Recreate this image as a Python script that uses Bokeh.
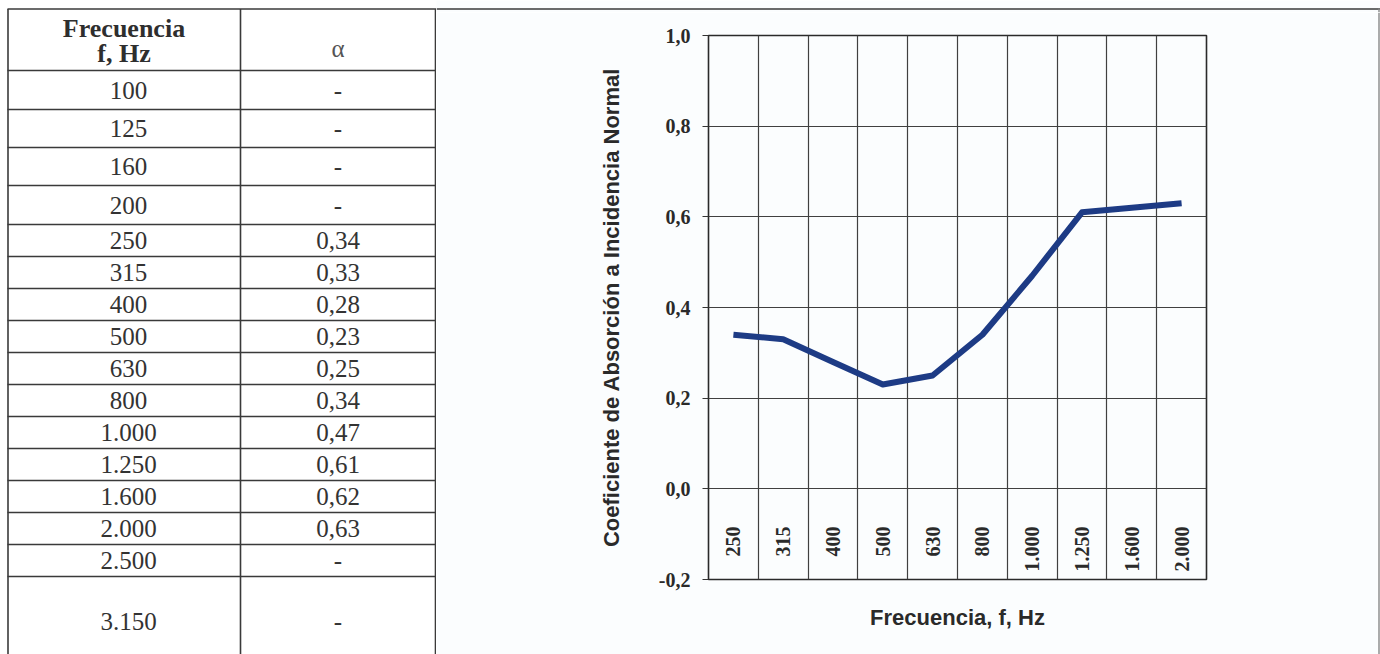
from math import pi
from bokeh.plotting import figure
from bokeh.models import Range1d, FixedTicker, CustomJSTickFormatter
from bokeh.layouts import row, column
from bokeh.core.properties import value
from bokeh.embed import file_html
from bokeh.resources import INLINE

# ---------------- data ----------------
freq_labels = ["100", "125", "160", "200", "250", "315", "400", "500", "630",
               "800", "1.000", "1.250", "1.600", "2.000", "2.500", "3.150"]
alpha_values = [None, None, None, None, 0.34, 0.33, 0.28, 0.23, 0.25,
                0.34, 0.47, 0.61, 0.62, 0.63, None, None]
header_freq = ["Frecuencia", "f, Hz"]
header_alpha = "α"
y_ticks = [-0.2, 0.0, 0.2, 0.4, 0.6, 0.8, 1.0]
x_title = "Frecuencia, f, Hz"
y_title = "Coeficiente de Absorción a Incidencia Normal"

chart_labels = [f for f, a in zip(freq_labels, alpha_values) if a is not None]
chart_values = [a for a in alpha_values if a is not None]
alpha_text = ["-" if a is None else f"{a:.2f}".replace(".", ",") for a in alpha_values]

H = 654
line_col = "#3a3a3a"
chart_bg = "#fbfdfe"
serif = value("Liberation Serif")


def blank_fig(w, h, bg):
    f = figure(width=w, height=h, x_range=Range1d(0, w), y_range=Range1d(h, 0),
               title=None, output_backend="svg", toolbar_location=None,
               min_border=0, x_axis_type=None, y_axis_type=None)
    f.frame_align = False
    f.grid.visible = False
    f.outline_line_color = None
    f.background_fill_color = bg
    f.border_fill_color = bg
    return f


# ---------------- table (left) ----------------
TW = 436
table_top = 8.5
header_bottom = 70
row_heights = [39, 38, 38, 39] + [32] * 11 + [90]
bounds = [header_bottom]
for h in row_heights:
    bounds.append(bounds[-1] + h)
row_centers = [(bounds[i] + bounds[i + 1]) / 2 for i in range(len(row_heights))]
hlines = [table_top] + bounds[:-1]

t = blank_fig(TW, H, "white")
t.segment(x0=[7] * len(hlines), x1=[TW] * len(hlines), y0=hlines, y1=hlines,
          line_color=line_col, line_width=1.6)
t.segment(x0=[7.5, 240, 435], x1=[7.5, 240, 435], y0=[table_top] * 3, y1=[H] * 3,
          line_color=line_col, line_width=1.6)

t.text(x=[123.5, 123.5], y=[27.5, 53], text=header_freq, text_align="center",
       text_baseline="middle", text_font=serif, text_font_style="bold",
       text_font_size="26px", text_color="#2e2e2e")
t.text(x=[337.5], y=[48], text=[header_alpha], text_align="center",
       text_baseline="middle", text_font=serif, text_font_size="25px",
       text_color="#555555")
t.text(x=[128] * len(freq_labels), y=row_centers, text=freq_labels,
       text_align="center", text_baseline="middle", text_font=serif,
       text_font_size="25px", text_color="#333333")
t.text(x=[337.5] * len(alpha_text), y=row_centers, text=alpha_text,
       text_align="center", text_baseline="middle", text_font=serif,
       text_font_size="25px", text_color="#333333")

# ---------------- top rule and right edge of the page cell ----------------
RW = 1380 - TW          # 944
RULE_H = 12
EDGE_W = 3
rule = blank_fig(RW, RULE_H, chart_bg)
rule.quad(left=[0], right=[RW], top=[7.7], bottom=[9.3], fill_color=line_col,
          line_color=None)
rule.quad(left=[RW - 2.2], right=[RW - 0.8], top=[8], bottom=[RULE_H],
          fill_color="#888888", line_color=None)

CH = H - RULE_H
edge = blank_fig(EDGE_W, CH, chart_bg)
edge.quad(left=[0.8], right=[2.2], top=[0], bottom=[CH], fill_color="#888888",
          line_color=None)

# ---------------- chart (right) ----------------
CW = RW - EDGE_W
c = figure(width=CW, height=CH, x_range=Range1d(0, len(chart_labels)),
           y_range=Range1d(-0.2, 1.0), output_backend="svg", toolbar_location=None,
           min_border_left=272, min_border_right=CW - 272 - 498,
           min_border_top=35 - RULE_H, min_border_bottom=75)
c.frame_align = False
c.background_fill_color = chart_bg
c.border_fill_color = chart_bg
c.outline_line_color = "#2a2a2a"
c.outline_line_width = 1.6

c.xgrid.ticker = FixedTicker(ticks=list(range(1, len(chart_labels))))
c.ygrid.ticker = FixedTicker(ticks=y_ticks[1:-1])
for g in (c.xgrid[0], c.ygrid[0]):
    g.grid_line_color = "#404040"
    g.grid_line_width = 1.2

ya = c.yaxis[0]
ya.ticker = FixedTicker(ticks=y_ticks)
ya.formatter = CustomJSTickFormatter(code="return tick.toFixed(1).replace('.', ',');")
ya.major_label_text_font = "Liberation Serif"
ya.major_label_text_font_style = "bold"
ya.major_label_text_font_size = "20px"
ya.major_label_text_color = "#2a2a2a"
ya.major_tick_out = 6
ya.major_tick_in = 0
ya.major_tick_line_color = "#333333"
ya.minor_tick_line_color = None
ya.axis_line_color = None
ya.major_label_standoff = 12
ya.axis_label = y_title
ya.axis_label_text_font = "Liberation Sans"
ya.axis_label_text_font_style = "bold"
ya.axis_label_text_font_size = "22px"
ya.axis_label_text_color = "#2a2a2a"
ya.axis_label_standoff = 32

xa = c.xaxis[0]
xa.ticker = FixedTicker(ticks=[])
xa.major_tick_out = 0
xa.major_tick_in = 0
xa.minor_tick_line_color = None
xa.axis_line_color = None
xa.major_label_standoff = 0
xa.axis_label = x_title
xa.axis_label_text_font = "Liberation Sans"
xa.axis_label_text_font_style = "bold"
xa.axis_label_text_font_size = "22px"
xa.axis_label_text_color = "#2a2a2a"
xa.axis_label_standoff = 25

centers = [i + 0.5 for i in range(len(chart_labels))]
c.text(x=centers, y=[-0.083] * len(centers), text=chart_labels, angle=pi / 2,
       text_align="right", text_baseline="middle", text_font=serif,
       text_font_style="bold", text_font_size="20px", text_color="#2a2a2a")
c.line(centers, chart_values, line_width=6, line_color="#1d3b85", line_join="round")

layout = row(t, column(rule, row(c, edge)))
open("out.html", "w").write(file_html(layout, INLINE))
